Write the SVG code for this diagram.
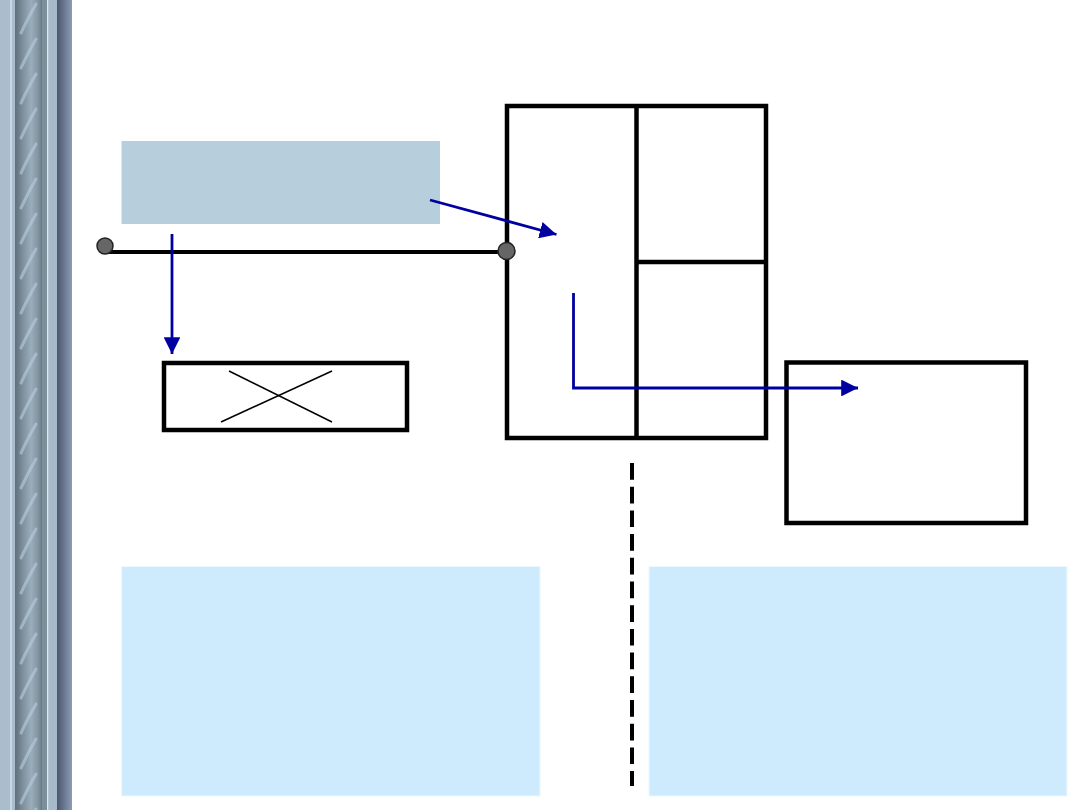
<svg xmlns="http://www.w3.org/2000/svg" width="1080" height="810" viewBox="0 0 1080 810">
<style>
.frame{fill:none;stroke:#000;stroke-width:4.5}
.conn{fill:none;stroke:#0000a0;stroke-width:2.8}
.dot{fill:#666;stroke:#222;stroke-width:1.5}
.panel{fill:#cdebfd;stroke:#eef8ff;stroke-width:1}
</style>
<defs>
<marker id="ah" viewBox="0 0 10 10" refX="10" refY="5" markerWidth="6" markerHeight="6" orient="auto" markerUnits="strokeWidth">
<path d="M0,0 L10,5 L0,10 z" fill="#0000a0"/>
</marker>
<linearGradient id="rod" x1="0" x2="1" y1="0" y2="0">
<stop offset="0" stop-color="#5f6f7b"/>
<stop offset="0.3" stop-color="#7f919e"/>
<stop offset="0.6" stop-color="#9aadbb"/>
<stop offset="0.85" stop-color="#8395a2"/>
<stop offset="1" stop-color="#6d7d88"/>
</linearGradient>
<linearGradient id="edge" x1="0" x2="1" y1="0" y2="0">
<stop offset="0" stop-color="#4a566c"/>
<stop offset="1" stop-color="#8c9cb6"/>
</linearGradient>
<pattern id="twist" x="15" y="0" width="27" height="35" patternUnits="userSpaceOnUse">
<path d="M6,33 Q12,20 21,4" fill="none" stroke="#b9cde0" stroke-width="3" stroke-opacity="0.6" stroke-linecap="round"/>
</pattern>
</defs>
<rect width="1080" height="810" fill="#fff"/>
<g id="sidebar">
<rect x="0" y="0" width="72" height="810" fill="#a9bdcc"/>
<rect x="10" y="0" width="2" height="810" fill="#c9d8e3"/>
<rect x="15" y="0" width="27" height="810" fill="url(#rod)"/>
<rect x="15" y="0" width="27" height="810" fill="url(#twist)"/>
<rect x="41" y="0" width="2" height="810" fill="#6c7c87"/>
<rect x="42" y="0" width="5" height="810" fill="#7d8f9b"/>
<rect x="47" y="0" width="1.5" height="810" fill="#dde7ef"/>
<rect x="48.5" y="0" width="8.5" height="810" fill="#a6bac9"/>
<rect x="57" y="0" width="15" height="810" fill="url(#edge)"/>
</g>
<g id="label-box">
<rect x="121.5" y="141" width="318.5" height="83" fill="#b7cedd"/>
</g>
<g id="frame">
<rect class="frame" x="507" y="106" width="259" height="332"/>
<line class="frame" x1="636.5" y1="106" x2="636.5" y2="438"/>
<line class="frame" x1="636.5" y1="262" x2="766" y2="262"/>
</g>
<g id="x-box">
<rect class="frame" x="164" y="363" width="243" height="67"/>
<line x1="229" y1="371" x2="332" y2="422" stroke="#000" stroke-width="1.5"/>
<line x1="221" y1="422" x2="332" y2="371" stroke="#000" stroke-width="1.5"/>
</g>
<g id="right-box">
<rect class="frame" x="786.5" y="362.5" width="239.5" height="160.5"/>
</g>
<g id="panel-left">
<rect class="panel" x="121.5" y="566.5" width="418.5" height="229.5"/>
</g>
<g id="panel-right">
<rect class="panel" x="649" y="566.5" width="418" height="229.5"/>
</g>
<g id="connectors">
<line x1="105" y1="252" x2="507" y2="252" stroke="#000" stroke-width="4"/>
<line class="conn" x1="430" y1="200" x2="556.5" y2="234.5" marker-end="url(#ah)"/>
<line class="conn" x1="172" y1="234" x2="172" y2="354" marker-end="url(#ah)"/>
<polyline class="conn" points="573.5,293 573.5,388 858,388" marker-end="url(#ah)"/>
<line x1="632" y1="463" x2="632" y2="786" stroke="#000" stroke-width="4" stroke-dasharray="16.7 7"/>
</g>
<g id="junctions">
<circle class="dot" cx="105" cy="246" r="8"/>
<circle class="dot" cx="506.5" cy="251" r="8.5"/>
</g>
</svg>
